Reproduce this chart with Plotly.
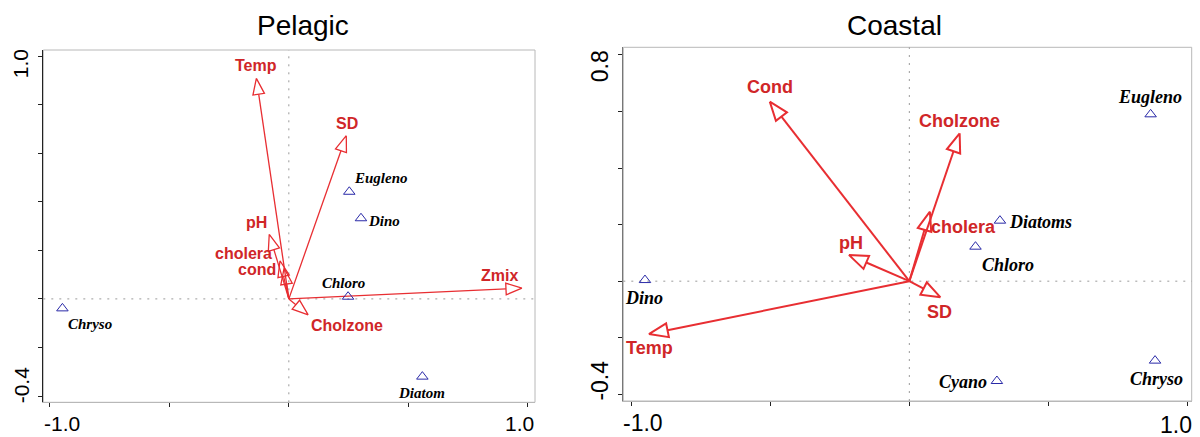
import math
import plotly.graph_objects as go

W, H = 1200, 437

# ---- Pelagic biplot: environmental vectors and taxa scores ----
pel_vars = ["Temp", "SD", "pH", "cholera", "cond", "Cholzone", "Zmix"]
pel_vx = [-0.136, 0.2405, -0.082, -0.037, -0.020, 0.081, 0.976]
pel_vy = [0.908, 0.672, 0.266, 0.157, 0.126, -0.066, 0.044]
pel_taxa = ["Eugleno", "Dino", "Chloro", "Chryso", "Diatom"]
pel_tx = [0.253, 0.302, 0.248, -0.948, 0.559]
pel_ty = [0.441, 0.332, 0.009, -0.039, -0.320]
pel_xticks = [-1.0, -0.5, 0.0, 0.5, 1.0]
pel_yticks = [-0.4, -0.2, 0.0, 0.2, 0.4, 0.6, 0.8, 1.0]
pel_xlabels = ["-1.0", "1.0"]
pel_ylabels = ["1.0", "-0.4"]

# ---- Coastal biplot ----
coa_vars = ["Cond", "Cholzone", "cholera", "pH", "SD", "Temp"]
coa_vx = [-0.502, 0.181, 0.074, -0.2175, 0.112, -0.937]
coa_vy = [0.635, 0.523, 0.246, 0.093, -0.057, -0.187]
coa_taxa = ["Eugleno", "Diatoms", "Chloro", "Dino", "Cyano", "Chryso"]
coa_tx = [0.868, 0.326, 0.238, -0.951, 0.315, 0.884]
coa_ty = [0.590, 0.214, 0.122, 0.004, -0.353, -0.281]
coa_xticks = [-1.0, -0.5, 0.0, 0.5, 1.0]
coa_yticks = [-0.4, -0.2, 0.0, 0.2, 0.4, 0.6, 0.8]
coa_xlabels = ["-1.0", "1.0"]
coa_ylabels = ["0.8", "-0.4"]

# ---- panel geometry (pixels) ----
panels = [
    dict(name="Pelagic", xa="x", ya="y", xdom=(43.3, 535.0), ydom=(50.0, 402.3),
         xr=(-1.028, 1.0306), yr=(-0.4257, 1.0247), title_dx=14,
         vars=pel_vars, vx=pel_vx, vy=pel_vy, taxa=pel_taxa, tx=pel_tx, ty=pel_ty,
         xticks=pel_xticks, yticks=pel_yticks, xlabels=pel_xlabels, ylabels=pel_ylabels,
         lw=1.3, hl=16, hw=5.8, vfont=16, tfont=15, tickfont=21, yaxcol="#222",
         xlab_shift=[(12, -21), (-8, -21)], ylab_shift=[(-22, -8), (-22, 11)],
         vlab={"Temp": (0, -12.6), "SD": (0.7, -12.4), "pH": (-12.6, -11.6),
               "cholera": (-36.7, -7.4), "cond": (-26.7, 1.7),
               "Cholzone": (38.7, 11), "Zmix": (-22, -12.3)},
         tlab={"Eugleno": (32, -14), "Dino": (23.5, 3), "Chloro": (-5, -14),
               "Chryso": (28, 16), "Diatom": (-1, 16)}),
    dict(name="Coastal", xa="x2", ya="y2", xdom=(623.3, 1191.7), ydom=(47.3, 401.0),
         xr=(-1.029, 1.0158), yr=(-0.4237, 0.827), title_dx=-13,
         vars=coa_vars, vx=coa_vx, vy=coa_vy, taxa=coa_taxa, tx=coa_tx, ty=coa_ty,
         xticks=coa_xticks, yticks=coa_yticks, xlabels=coa_xlabels, ylabels=coa_ylabels,
         lw=2.0, hl=19, hw=7, vfont=18, tfont=18, tickfont=23, yaxcol="#777",
         xlab_shift=[(12, -22), (-11, -24)], ylab_shift=[(-23, -11), (-23, 14)],
         vlab={"Cond": (0, -14.4), "Cholzone": (0, -12.6), "cholera": (33.5, 15),
               "pH": (2, -11.7), "SD": (-0.8, 14.4), "Temp": (1, 14)},
         tlab={"Eugleno": (-1, -17), "Diatoms": (40.6, 1), "Chloro": (33, 18),
               "Dino": (-1, 18), "Cyano": (-34.3, 0.7), "Chryso": (1, 18.6)}),
]

ARROW = "rgb(232,46,50)"
LABEL = "rgb(208,38,40)"
TAXON = "#2a2aa8"
SANS = "Liberation Sans, Arial, sans-serif"
SERIF = "Liberation Serif, Times New Roman, serif"

fig = go.Figure()
annotations = []
shapes = []
layout_axes = {}

for i, p in enumerate(panels):
    sx = "" if i == 0 else str(i + 1)
    xdom = [p["xdom"][0] / W, p["xdom"][1] / W]
    ydom = [1 - p["ydom"][1] / H, 1 - p["ydom"][0] / H]
    # pixels per data unit
    kx = (p["xdom"][1] - p["xdom"][0]) / (p["xr"][1] - p["xr"][0])
    ky = (p["ydom"][1] - p["ydom"][0]) / (p["yr"][1] - p["yr"][0])

    layout_axes["xaxis" + sx] = dict(
        domain=xdom, range=list(p["xr"]), anchor="y" + sx,
        showgrid=False, zeroline=False, showline=True, linecolor="#b8b8b8", linewidth=1,
        ticks="outside", ticklen=4, tickcolor="#222", tickwidth=1,
        tickvals=p["xticks"], showticklabels=False, fixedrange=True)
    layout_axes["yaxis" + sx] = dict(
        domain=ydom, range=list(p["yr"]), anchor="x" + sx,
        showgrid=False, zeroline=False, showline=True, linecolor=p["yaxcol"], linewidth=1,
        ticks="outside", ticklen=4, tickcolor="#222", tickwidth=1,
        tickvals=p["yticks"], showticklabels=False, fixedrange=True)

    # frame and dotted zero lines
    shapes.append(dict(type="rect", xref=p["xa"] + " domain", yref=p["ya"] + " domain",
                       x0=0, x1=1, y0=0, y1=1, line=dict(color="#b8b8b8", width=1),
                       layer="below"))
    shapes.append(dict(type="line", xref=p["xa"] + " domain", yref=p["ya"],
                       x0=0, x1=1, y0=0, y1=0,
                       line=dict(color="#9a9a9a", width=1, dash="2px,6px"), layer="below"))
    shapes.append(dict(type="line", xref=p["xa"], yref=p["ya"] + " domain",
                       x0=0, x1=0, y0=0, y1=1,
                       line=dict(color="#9a9a9a", width=1, dash="2px,6px"), layer="below"))

    # environmental arrows with open heads
    for name, vx, vy in zip(p["vars"], p["vx"], p["vy"]):
        px, py = vx * kx, vy * ky
        L = math.hypot(px, py)
        ux, uy = px / L, py / L
        bx, by = px - ux * p["hl"], py - uy * p["hl"]
        nx, ny = -uy, ux
        fig.add_trace(go.Scatter(
            x=[0, bx / kx], y=[0, by / ky], mode="lines", xaxis=p["xa"], yaxis=p["ya"],
            line=dict(color=ARROW, width=p["lw"]), hoverinfo="skip", showlegend=False))
        hx = [vx, (bx + nx * p["hw"]) / kx, (bx - nx * p["hw"]) / kx, vx]
        hy = [vy, (by + ny * p["hw"]) / ky, (by - ny * p["hw"]) / ky, vy]
        fig.add_trace(go.Scatter(
            x=hx, y=hy, mode="lines", xaxis=p["xa"], yaxis=p["ya"],
            line=dict(color=ARROW, width=p["lw"]), hoverinfo="skip", showlegend=False))
        dx, dy = p["vlab"][name]
        annotations.append(dict(
            x=vx, y=vy, xref=p["xa"], yref=p["ya"], text="<b>%s</b>" % name,
            showarrow=False, xshift=dx, yshift=-dy, xanchor="center", yanchor="middle",
            font=dict(family=SANS, size=p["vfont"], color=LABEL)))

    # taxa scores
    fig.add_trace(go.Scatter(
        x=p["tx"], y=p["ty"], mode="markers", xaxis=p["xa"], yaxis=p["ya"],
        marker=dict(symbol="triangle-up-open", size=10, color=TAXON, line=dict(width=1)),
        hoverinfo="skip", showlegend=False))
    for name, tx, ty in zip(p["taxa"], p["tx"], p["ty"]):
        dx, dy = p["tlab"][name]
        annotations.append(dict(
            x=tx, y=ty, xref=p["xa"], yref=p["ya"], text="<b><i>%s</i></b>" % name,
            showarrow=False, xshift=dx, yshift=-dy, xanchor="center", yanchor="middle",
            font=dict(family=SERIF, size=p["tfont"], color="black")))

    # end tick labels, nudged inward along the axes
    for val, lab, (dx, dy) in zip([p["xticks"][0], p["xticks"][-1]], p["xlabels"],
                                  p["xlab_shift"]):
        annotations.append(dict(
            x=val, y=0, xref=p["xa"], yref=p["ya"] + " domain", text=lab, showarrow=False,
            xshift=dx, yshift=dy, xanchor="center", yanchor="middle",
            font=dict(family=SANS, size=p["tickfont"], color="black")))
    for val, lab, (dx, dy) in zip([p["yticks"][-1], p["yticks"][0]], p["ylabels"],
                                  p["ylab_shift"]):
        annotations.append(dict(
            x=0, y=val, xref=p["xa"] + " domain", yref=p["ya"], text=lab, showarrow=False,
            xshift=dx, yshift=dy, xanchor="center", yanchor="middle", textangle=-90,
            font=dict(family=SANS, size=p["tickfont"], color="black")))

    # panel title
    annotations.append(dict(
        x=0.5, y=1 - 25 / H, xref=p["xa"] + " domain", yref="paper", text=p["name"],
        showarrow=False, xanchor="center", yanchor="middle", xshift=p["title_dx"],
        font=dict(family=SANS, size=28, color="black")))

fig.update_layout(
    width=W, height=H, margin=dict(l=0, r=0, t=0, b=0),
    paper_bgcolor="white", plot_bgcolor="white",
    annotations=annotations, shapes=shapes, showlegend=False, **layout_axes)

fig.write_html("out.html", config={"displayModeBar": False})
